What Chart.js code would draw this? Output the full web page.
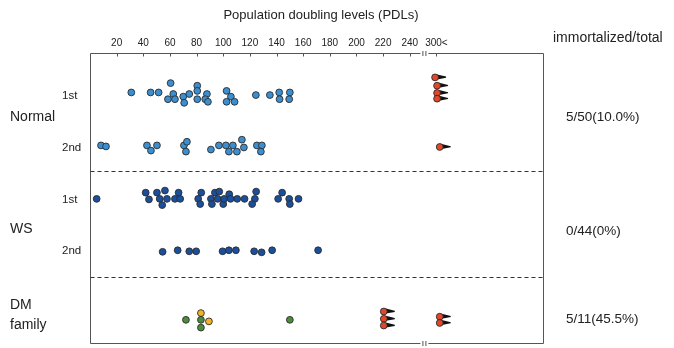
<!DOCTYPE html>
<html>
<head>
<meta charset="utf-8">
<script src="https://cdn.jsdelivr.net/npm/chart.js@4.4.1/dist/chart.umd.min.js"></script>
<style>
  html, body { margin: 0; padding: 0; background: #fff; }
  #wrap { width: 674px; height: 348px; }
</style>
</head>
<body>
<div id="wrap"><canvas id="myChart"></canvas></div>
<script>
// PDL values, plus small swarm offsets (in row units)
const normal1stPDL = [31, 45.5, 51.5, 60.5, 62.5, 58.5, 63.75, 70, 70.7, 74.5, 80.5, 80.5, 80.5, 87.75, 86.5, 88.5, 102.5, 105.75, 102.5, 108.5, 124.5, 135, 142, 142.3, 150, 149.5]
const normal1stSwarm = [-0.04, -0.04, -0.04, -0.22, -0.01, 0.09, 0.09, 0.04, 0.16, -0.01, -0.17, -0.07, 0.09, -0.01, 0.09, 0.14, -0.07, 0.04, 0.14, 0.14, 0.01, 0.01, -0.04, 0.09, -0.04, 0.09]
const normal2ndPDL = [8.25, 12, 42.75, 45.75, 50.25, 70.5, 72.75, 72, 90.75, 96.75, 102, 104.25, 107.25, 110.25, 114, 115.5, 125.25, 129, 128.25]
const normal2ndSwarm = [-0.02, 0, -0.02, 0.08, -0.02, -0.02, -0.09, 0.1, 0.06, -0.02, -0.02, 0.1, -0.02, 0.1, -0.13, 0.02, -0.02, -0.02, 0.1]
const ws1stPDL = [5, 41.8, 44.25, 50.25, 56.25, 52.3, 57.75, 54.2, 63.75, 66.5, 67.7, 81.2, 83.5, 82.7, 90.75, 91.5, 93.75, 97, 95.8, 100, 100.7, 104.5, 105.5, 110.5, 116, 124.7, 123.75, 121.7, 141.2, 144.2, 149.5, 150, 156.5]
const ws1stSwarm = [0.01, -0.11, 0.02, -0.11, -0.15, 0.01, 0.01, 0.13, 0.01, -0.11, 0.01, 0.01, -0.11, 0.11, 0.01, 0.11, -0.11, -0.13, 0.01, 0.11, 0.01, -0.08, 0.01, 0.01, 0.01, -0.13, 0.01, 0.11, 0.01, -0.11, 0.01, 0.11, 0.01]
const ws2ndPDL = [54.5, 65.8, 74.5, 79.7, 99.5, 104.25, 109.5, 123.2, 128.8, 136.7, 171.2]
const ws2ndSwarm = [0.03, 0, 0.02, 0.02, 0.02, 0, 0, 0.02, 0.04, 0, 0]
const dmGreenPDL = [72, 83.25, 83.25, 150]
const dmGreenSwarm = [0.02, 0.02, 0.17, 0.02]
const dmYellowPDL = [83.25, 89.25]
const dmYellowSwarm = [-0.11, 0.05]
// immortalized lines ("300<" is drawn at 260 on the axis)
const immortalRow = ['normal1st', 'normal1st', 'normal1st', 'normal1st', 'normal2nd', 'dm', 'dm', 'dm', 'dm', 'dm']
const immortalPDL = [259, 260.5, 260.5, 260.5, 262.5, 220.5, 220.5, 220.5, 262.5, 262.5]
const immortalSwarm = [-0.33, -0.17, -0.03, 0.08, 0.01, -0.14, 0, 0.13, -0.04, 0.08]

const xTicks = [20, 40, 60, 80, 100, 120, 140, 160, 180, 200, 220, 240, 260]
const xTickLabels = ['20', '40', '60', '80', '100', '120', '140', '160', '180', '200', '220', '240', '300<']
const ratios = ['5/50(10.0%)', '0/44(0%)', '5/11(45.5%)']

const rowPos = { normal1st: 0, normal2nd: 1, ws1st: 2, ws2nd: 3, dm: 4.32 }
const breakAt = 251
const FONT = '"Liberation Sans", Arial, sans-serif'

function pts(row, xs, offs) {
  return xs.map((v, i) => ({ x: v, y: rowPos[row] + offs[i] }))
}

function dotSet(label, data, color) {
  return {
    label: label, data: data,
    backgroundColor: color, borderColor: '#2b2b2b', borderWidth: 0.9,
    pointRadius: 3.4, pointHoverRadius: 3.4
  }
}

// little black arrows next to the immortalized points + frame + labels
const decor = {
  id: 'decor',
  beforeDatasetsDraw(chart) {
    const ctx = chart.ctx
    const meta = chart.getDatasetMeta(chart.data.datasets.length - 1)
    ctx.save()
    ctx.fillStyle = '#111'
    meta.data.forEach((p) => {
      const cx = p.x, cy = p.y
      ctx.beginPath()
      ctx.moveTo(cx + 2, cy - 3)
      ctx.lineTo(cx + 11, cy - 0.8)
      ctx.lineTo(cx + 11, cy + 0.4)
      ctx.lineTo(cx + 2, cy + 2)
      ctx.closePath()
      ctx.fill()
    })
    ctx.restore()
  },
  afterDraw(chart) {
    const ctx = chart.ctx
    const a = chart.chartArea
    const xs = chart.scales.x, ys = chart.scales.y
    const bx = xs.getPixelForValue(breakAt)
    ctx.save()
    // frame
    ctx.strokeStyle = '#555'
    ctx.lineWidth = 1
    const L = Math.round(a.left) + 0.5, R = Math.round(a.right) + 0.5
    const T = Math.round(a.top) + 0.5, B = Math.round(a.bottom) - 0.5
    ctx.beginPath()
    ctx.moveTo(L, T); ctx.lineTo(bx - 4, T)
    ctx.moveTo(bx + 4, T); ctx.lineTo(R, T); ctx.lineTo(R, B); ctx.lineTo(bx + 4, B)
    ctx.moveTo(bx - 4, B); ctx.lineTo(L, B); ctx.lineTo(L, T)
    // break marks
    ;[T, B].forEach((yy) => {
      ctx.moveTo(bx - 1.5, yy - 2.5); ctx.lineTo(bx - 1.5, yy + 2.5)
      ctx.moveTo(bx + 1.5, yy - 2.5); ctx.lineTo(bx + 1.5, yy + 2.5)
    })
    // inward tick marks on top axis
    xTicks.forEach((v) => {
      const px = Math.round(xs.getPixelForValue(v)) + 0.5
      ctx.moveTo(px, T); ctx.lineTo(px, T + 3)
    })
    ctx.stroke()
    // dashed separators
    ctx.strokeStyle = '#333'
    ctx.setLineDash([4, 3])
    ctx.beginPath()
    ;[1.48, 3.52].forEach((v) => {
      const py = Math.round(ys.getPixelForValue(v)) + 0.5
      ctx.moveTo(L, py); ctx.lineTo(R, py)
    })
    ctx.stroke()
    ctx.setLineDash([])
    // texts
    ctx.fillStyle = '#222'
    ctx.textBaseline = 'middle'
    ctx.textAlign = 'center'
    ctx.font = '13px ' + FONT
    ctx.fillText('Population doubling levels (PDLs)', 321, 15)
    ctx.textAlign = 'left'
    ctx.font = '14px ' + FONT
    ctx.fillText('immortalized/total', 553, 38)
    ctx.font = '11.5px ' + FONT
    ;[['1st', 0], ['2nd', 1], ['1st', 2], ['2nd', 3]].forEach(([t, r]) => {
      ctx.fillText(t, 62, ys.getPixelForValue(r) + 1)
    })
    ctx.font = '14px ' + FONT
    ctx.fillText('Normal', 10, ys.getPixelForValue(0.44))
    ctx.fillText('WS', 10, ys.getPixelForValue(2.6))
    ctx.fillText('DM', 10, ys.getPixelForValue(4.05))
    ctx.fillText('family', 10, ys.getPixelForValue(4.45))
    ctx.font = '13.5px ' + FONT
    ;[0.44, 2.63, 4.33].forEach((v, i) => {
      ctx.fillText(ratios[i], 566, ys.getPixelForValue(v))
    })
    ctx.restore()
  }
}

new Chart(document.getElementById('myChart'), {
  type: 'scatter',
  data: {
    datasets: [
      dotSet('Normal 1st', pts('normal1st', normal1stPDL, normal1stSwarm), '#3b8fd0'),
      dotSet('Normal 2nd', pts('normal2nd', normal2ndPDL, normal2ndSwarm), '#3b8fd0'),
      dotSet('WS 1st', pts('ws1st', ws1stPDL, ws1stSwarm), '#1b4f9b'),
      dotSet('WS 2nd', pts('ws2nd', ws2ndPDL, ws2ndSwarm), '#1b4f9b'),
      dotSet('DM green', pts('dm', dmGreenPDL, dmGreenSwarm), '#4d8c3b'),
      dotSet('DM yellow', pts('dm', dmYellowPDL, dmYellowSwarm), '#f6b227'),
      dotSet('Immortalized', immortalPDL.map((v, i) => ({ x: v, y: rowPos[immortalRow[i]] + immortalSwarm[i] })), '#e2472a')
    ]
  },
  options: {
    responsive: true,
    maintainAspectRatio: false,
    animation: false,
    layout: { padding: { left: 90, right: 131, top: 33, bottom: 3 } },
    plugins: { legend: { display: false }, tooltip: { enabled: false } },
    scales: {
      x: {
        type: 'linear', position: 'top', min: 0, max: 340,
        grid: { display: false, drawTicks: false },
        border: { display: false },
        afterBuildTicks: (scale) => { scale.ticks = xTicks.map((v) => ({ value: v })) },
        ticks: {
          autoSkip: false, maxRotation: 0, padding: 4, color: '#222',
          font: { size: 10, family: FONT },
          callback: (v, i) => xTickLabels[i]
        }
      },
      y: { type: 'linear', display: false, min: -0.8, max: 4.8, reverse: true }
    }
  },
  plugins: [decor]
})
</script>
</body>
</html>
